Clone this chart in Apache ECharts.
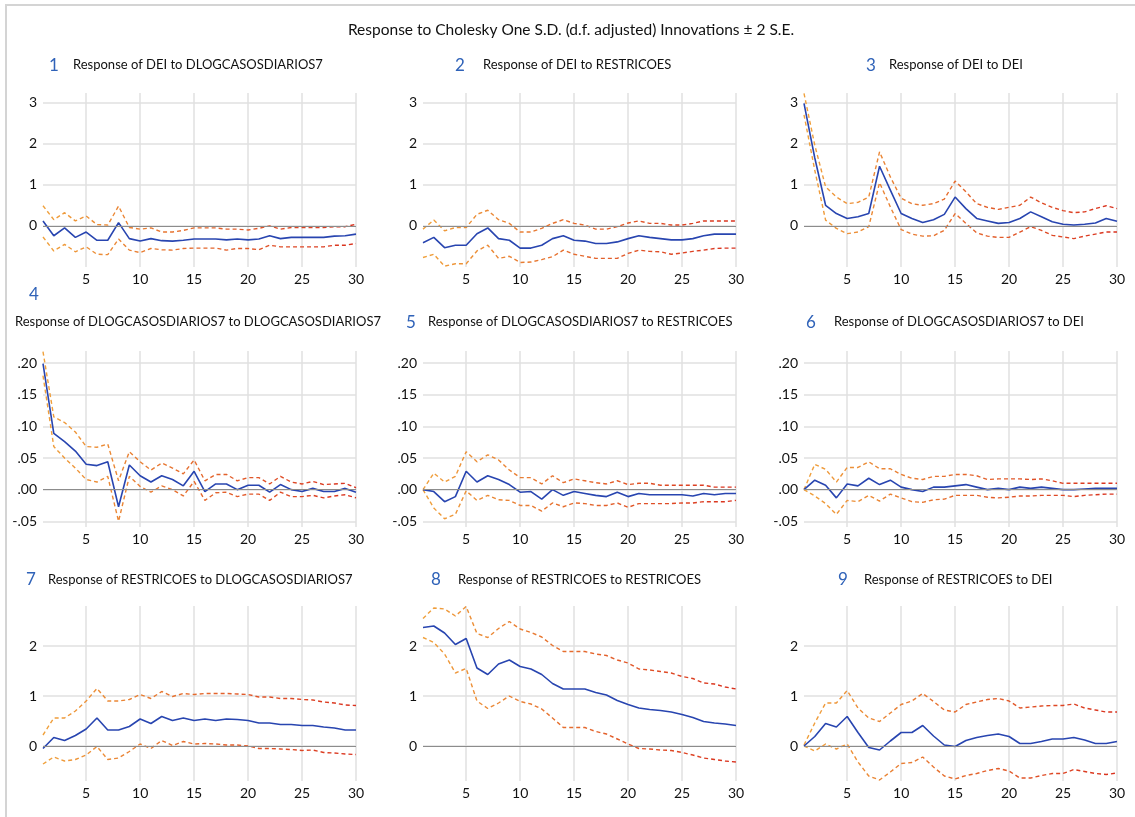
<!DOCTYPE html>
<html>
<head>
<meta charset="utf-8">
<title>Response to Cholesky One S.D. Innovations</title>
<script src="https://cdn.jsdelivr.net/npm/echarts@6/dist/echarts.min.js"></script>
<style>
    html, body { margin: 0; padding: 0; background: #fff; }
    #frame {
        position: absolute; left: 5px; top: 4px; width: 1130px; height: 813px;
        border-left: 2px solid #d4d4d4; border-top: 2px solid #d4d4d4;
    }
    #main { position: absolute; left: 0; top: 0; width: 1135px; height: 817px; }
</style>
</head>
<body>
<div id="frame"></div>
<div id="main"></div>
<script>
    var periods = [1,2,3,4,5,6,7,8,9,10,11,12,13,14,15,16,17,18,19,20,21,22,23,24,25,26,27,28,29,30];

    // 1 DEI <- DLOGCASOSDIARIOS7
    var p1_mid = [0.12,-0.24,-0.05,-0.28,-0.15,-0.35,-0.35,0.08,-0.31,-0.37,-0.31,-0.36,-0.37,-0.35,-0.32,-0.32,-0.32,-0.34,-0.32,-0.34,-0.32,-0.24,-0.31,-0.28,-0.28,-0.28,-0.28,-0.25,-0.24,-0.20];
    var p1_up  = [0.49,0.15,0.32,0.12,0.24,0.03,0.02,0.48,-0.04,-0.08,-0.05,-0.15,-0.15,-0.11,-0.05,-0.05,-0.05,-0.08,-0.08,-0.10,-0.06,0.00,-0.08,-0.04,-0.04,-0.04,-0.04,-0.02,-0.02,0.04];
    var p1_lo  = [-0.27,-0.61,-0.45,-0.63,-0.51,-0.69,-0.70,-0.32,-0.59,-0.65,-0.55,-0.58,-0.59,-0.55,-0.54,-0.54,-0.54,-0.59,-0.55,-0.55,-0.58,-0.47,-0.51,-0.51,-0.51,-0.51,-0.51,-0.47,-0.47,-0.43];
    // 2 DEI <- RESTRICOES
    var p2_mid = [-0.41,-0.28,-0.53,-0.47,-0.47,-0.19,-0.05,-0.31,-0.35,-0.54,-0.54,-0.47,-0.31,-0.24,-0.35,-0.37,-0.43,-0.43,-0.39,-0.31,-0.24,-0.28,-0.31,-0.34,-0.34,-0.31,-0.24,-0.20,-0.20,-0.20];
    var p2_up  = [-0.08,0.14,-0.12,-0.04,-0.04,0.28,0.38,0.15,0.06,-0.15,-0.15,-0.06,0.06,0.15,0.06,0.02,-0.08,-0.08,-0.02,0.07,0.12,0.06,0.06,0.02,0.02,0.06,0.12,0.12,0.12,0.12];
    var p2_lo  = [-0.77,-0.69,-0.98,-0.92,-0.92,-0.61,-0.47,-0.79,-0.74,-0.89,-0.88,-0.82,-0.75,-0.59,-0.69,-0.74,-0.79,-0.79,-0.79,-0.67,-0.59,-0.62,-0.63,-0.69,-0.66,-0.62,-0.59,-0.55,-0.54,-0.54];
    // 3 DEI <- DEI
    var p3_mid = [2.98,1.65,0.50,0.30,0.18,0.22,0.30,1.45,0.87,0.30,0.18,0.08,0.15,0.28,0.70,0.42,0.18,0.12,0.06,0.08,0.18,0.34,0.22,0.10,0.04,0.02,0.04,0.07,0.18,0.11];
    var p3_up  = [3.22,1.96,0.95,0.70,0.54,0.57,0.70,1.80,1.19,0.67,0.54,0.50,0.54,0.65,1.09,0.83,0.54,0.45,0.40,0.45,0.50,0.70,0.56,0.45,0.37,0.32,0.34,0.42,0.49,0.42];
    var p3_lo  = [2.70,1.35,0.14,-0.06,-0.19,-0.15,-0.02,1.05,0.46,-0.09,-0.20,-0.25,-0.24,-0.11,0.30,0.06,-0.17,-0.25,-0.28,-0.28,-0.15,-0.02,-0.11,-0.23,-0.27,-0.31,-0.25,-0.20,-0.15,-0.15];
    // 4 DLOGCASOSDIARIOS7 <- DLOGCASOSDIARIOS7
    var p4_mid = [0.199,0.089,0.076,0.061,0.040,0.038,0.044,-0.027,0.039,0.022,0.012,0.022,0.016,0.006,0.029,-0.003,0.009,0.009,0.000,0.007,0.007,-0.004,0.008,0.000,-0.003,0.002,-0.003,-0.003,0.002,-0.004];
    var p4_up  = [0.218,0.115,0.106,0.091,0.068,0.067,0.072,0.014,0.060,0.044,0.031,0.042,0.034,0.025,0.047,0.014,0.024,0.024,0.014,0.019,0.019,0.009,0.021,0.012,0.009,0.013,0.008,0.009,0.010,0.003];
    var p4_lo  = [0.180,0.068,0.050,0.034,0.016,0.012,0.021,-0.050,0.021,0.005,-0.004,0.006,0.000,-0.010,0.013,-0.017,-0.005,-0.004,-0.011,-0.007,-0.007,-0.017,-0.004,-0.011,-0.011,-0.009,-0.013,-0.010,-0.008,-0.013];
    // 5 DLOGCASOSDIARIOS7 <- RESTRICOES
    var p5_mid = [0.000,-0.003,-0.019,-0.011,0.029,0.012,0.022,0.016,0.008,-0.004,-0.003,-0.015,0.000,-0.009,-0.003,-0.006,-0.009,-0.011,-0.004,-0.011,-0.006,-0.008,-0.008,-0.008,-0.008,-0.010,-0.006,-0.008,-0.006,-0.006];
    var p5_up  = [0.000,0.026,0.012,0.021,0.060,0.044,0.055,0.047,0.031,0.019,0.019,0.009,0.022,0.011,0.017,0.014,0.011,0.009,0.014,0.008,0.010,0.010,0.007,0.007,0.007,0.007,0.007,0.004,0.004,0.004];
    var p5_lo  = [0.000,-0.029,-0.046,-0.039,-0.002,-0.017,-0.009,-0.016,-0.017,-0.025,-0.025,-0.034,-0.021,-0.027,-0.021,-0.022,-0.025,-0.025,-0.021,-0.028,-0.022,-0.022,-0.022,-0.022,-0.021,-0.021,-0.019,-0.019,-0.019,-0.017];
    // 6 DLOGCASOSDIARIOS7 <- DEI
    var p6_mid = [0.000,0.015,0.007,-0.013,0.009,0.006,0.018,0.008,0.015,0.004,0.000,-0.003,0.004,0.004,0.006,0.008,0.004,0.000,0.002,0.000,0.004,0.002,0.004,0.002,0.000,0.000,0.001,0.002,0.002,0.002];
    var p6_up  = [0.000,0.040,0.032,0.012,0.035,0.035,0.044,0.033,0.033,0.024,0.018,0.016,0.021,0.021,0.024,0.024,0.022,0.016,0.017,0.017,0.017,0.016,0.017,0.014,0.010,0.010,0.010,0.010,0.010,0.010];
    var p6_lo  = [0.000,-0.010,-0.022,-0.039,-0.017,-0.019,-0.009,-0.018,-0.007,-0.013,-0.019,-0.020,-0.016,-0.015,-0.009,-0.009,-0.009,-0.012,-0.013,-0.012,-0.010,-0.010,-0.009,-0.009,-0.009,-0.011,-0.009,-0.008,-0.007,-0.007];
    // 7 RESTRICOES <- DLOGCASOSDIARIOS7
    var p7_mid = [-0.05,0.17,0.11,0.21,0.34,0.56,0.32,0.32,0.39,0.54,0.45,0.59,0.51,0.56,0.51,0.54,0.51,0.54,0.53,0.51,0.46,0.46,0.43,0.43,0.41,0.41,0.38,0.36,0.32,0.32];
    var p7_up  = [0.22,0.56,0.56,0.70,0.90,1.15,0.90,0.90,0.93,1.03,0.95,1.09,0.99,1.05,1.03,1.05,1.05,1.05,1.04,1.03,0.98,0.98,0.95,0.95,0.93,0.92,0.88,0.86,0.82,0.81];
    var p7_lo  = [-0.36,-0.22,-0.30,-0.27,-0.18,-0.01,-0.27,-0.24,-0.11,0.04,-0.05,0.11,0.01,0.09,0.04,0.05,0.04,0.02,0.02,0.00,-0.05,-0.05,-0.06,-0.07,-0.09,-0.08,-0.13,-0.14,-0.16,-0.17];
    // 8 RESTRICOES <- RESTRICOES
    var p8_mid = [2.37,2.40,2.26,2.03,2.15,1.56,1.43,1.64,1.72,1.59,1.54,1.43,1.25,1.14,1.14,1.14,1.07,1.02,0.91,0.83,0.76,0.73,0.71,0.68,0.63,0.57,0.49,0.46,0.44,0.41];
    var p8_up  = [2.55,2.76,2.74,2.60,2.79,2.25,2.17,2.35,2.49,2.34,2.27,2.18,2.01,1.89,1.89,1.89,1.84,1.81,1.72,1.66,1.54,1.52,1.49,1.46,1.39,1.35,1.26,1.24,1.18,1.14];
    var p8_lo  = [2.17,2.07,1.84,1.46,1.55,0.90,0.75,0.86,1.00,0.89,0.84,0.74,0.56,0.37,0.37,0.37,0.29,0.24,0.14,0.04,-0.05,-0.06,-0.08,-0.09,-0.13,-0.18,-0.24,-0.27,-0.30,-0.32];
    // 9 RESTRICOES <- DEI
    var p9_mid = [0.00,0.19,0.45,0.38,0.59,0.27,-0.03,-0.08,0.10,0.27,0.27,0.41,0.20,0.02,-0.01,0.11,0.17,0.21,0.24,0.19,0.05,0.05,0.09,0.14,0.14,0.17,0.12,0.05,0.05,0.09];
    var p9_up  = [0.02,0.46,0.86,0.86,1.11,0.76,0.56,0.49,0.66,0.83,0.90,1.05,0.89,0.72,0.68,0.83,0.88,0.93,0.95,0.90,0.76,0.78,0.80,0.81,0.81,0.84,0.76,0.72,0.68,0.68];
    var p9_lo  = [0.00,-0.10,0.04,-0.06,0.04,-0.32,-0.60,-0.68,-0.52,-0.35,-0.33,-0.22,-0.42,-0.60,-0.66,-0.59,-0.55,-0.49,-0.45,-0.50,-0.64,-0.64,-0.59,-0.55,-0.55,-0.47,-0.51,-0.55,-0.57,-0.54];

    var titles = [
        'Response of DEI to DLOGCASOSDIARIOS7',
        'Response of DEI to RESTRICOES',
        'Response of DEI to DEI',
        'Response of DLOGCASOSDIARIOS7 to DLOGCASOSDIARIOS7',
        'Response of DLOGCASOSDIARIOS7 to RESTRICOES',
        'Response of DLOGCASOSDIARIOS7 to DEI',
        'Response of RESTRICOES to DLOGCASOSDIARIOS7',
        'Response of RESTRICOES to RESTRICOES',
        'Response of RESTRICOES to DEI'
    ];
    var rowTicks = [[0, 1, 2, 3], [-0.05, 0, 0.05, 0.10, 0.15, 0.20], [0, 1, 2]];

    var mids = [p1_mid, p2_mid, p3_mid, p4_mid, p5_mid, p6_mid, p7_mid, p8_mid, p9_mid];
    var ups  = [p1_up, p2_up, p3_up, p4_up, p5_up, p6_up, p7_up, p8_up, p9_up];
    var los  = [p1_lo, p2_lo, p3_lo, p4_lo, p5_lo, p6_lo, p7_lo, p8_lo, p9_lo];

    // layout
    var colLeft = [43, 423, 804];
    var plotW = 313;
    var rowTop = [93, 351, 606];
    var rowH = [174, 176, 175];
    var rowMin = [-1, -0.059, -0.7];
    var rowMax = [3.23, 0.219, 2.8];
    // title positions: [numX, numY, textX, textY]
    var titlePos = [
        [49, 57, 73, 58], [455, 57, 483, 58], [866, 57, 889, 58],
        [29, 286, 15, 315], [406, 314, 428, 315], [806, 314, 834, 315],
        [26, 571, 48, 573], [431, 571, 458, 573], [838, 571, 864, 573]
    ];

    var FONT = 'Lato, "Open Sans", sans-serif';
    var bandColor = new echarts.graphic.LinearGradient(0, 0, 1, 0, [
        {offset: 0, color: '#f0a23c'},
        {offset: 1, color: '#d9301e'}
    ]);

    var grid = [], xAxis = [], yAxis = [], series = [], title = [];
    title.push({
        text: 'Response to Cholesky One S.D. (d.f. adjusted) Innovations \u00b1 2 S.E.',
        left: 571, top: 22, textAlign: 'center', padding: 0,
        textStyle: {fontFamily: FONT, fontSize: 15.5, fontWeight: 'normal', color: '#111'}
    });

    for (var i = 0; i < 9; i++) {
        var r = Math.floor(i / 3), c = i % 3;
        grid.push({left: colLeft[c], top: rowTop[r], width: plotW, height: rowH[r]});
        title.push({
            text: String(i + 1), left: titlePos[i][0], top: titlePos[i][1], padding: 0,
            textStyle: {fontFamily: FONT, fontSize: 17, fontWeight: 'normal', color: '#2f62b8'}
        });
        title.push({
            text: titles[i], left: titlePos[i][2], top: titlePos[i][3], padding: 0,
            textStyle: {fontFamily: FONT, fontSize: 13, fontWeight: 'normal', color: '#111'}
        });
        xAxis.push({
            type: 'category', gridIndex: i, data: periods, boundaryGap: false,
            axisLine: {show: false}, axisTick: {show: false},
            axisLabel: {
                interval: function (idx) { return (idx + 1) % 5 === 0; },
                fontFamily: FONT, fontSize: 14, color: '#111', margin: 5
            },
            splitLine: {
                show: true,
                interval: function (idx) { return (idx + 1) % 5 === 0; },
                lineStyle: {color: '#e0e0e0', width: 1.5}
            }
        });
        yAxis.push({
            type: 'value', gridIndex: i, min: rowMin[r], max: rowMax[r],
            axisLine: {show: false},
            axisTick: {show: false, customValues: rowTicks[r]},
            axisLabel: {
                customValues: rowTicks[r],
                fontFamily: FONT, fontSize: 14, color: '#111', margin: 6,
                formatter: r === 1
                    ? function (v) { return v.toFixed(2).replace('0.', '.'); }
                    : function (v) { return String(Math.round(v)); }
            },
            splitLine: {show: true, lineStyle: {color: '#e0e0e0', width: 1.5}}
        });
        var dash = {color: bandColor, width: 1.4, type: [4, 3]};
        series.push({
            type: 'line', xAxisIndex: i, yAxisIndex: i, data: ups[i],
            symbol: 'none', clip: false, lineStyle: dash, silent: true, z: 3
        });
        series.push({
            type: 'line', xAxisIndex: i, yAxisIndex: i, data: los[i],
            symbol: 'none', clip: false, lineStyle: dash, silent: true, z: 3
        });
        series.push({
            type: 'line', xAxisIndex: i, yAxisIndex: i, data: mids[i],
            symbol: 'none', clip: false, silent: true, z: 4,
            lineStyle: {color: '#2845b0', width: 1.6},
            markLine: {
                silent: true, symbol: 'none', label: {show: false},
                lineStyle: {color: '#8c8c8c', width: 1, type: 'solid'},
                data: [{yAxis: 0}]
            }
        });
    }

    var chart = echarts.init(document.getElementById('main'), null, {renderer: 'canvas'});
    chart.setOption({
        backgroundColor: 'transparent',
        animation: false,
        title: title,
        grid: grid,
        xAxis: xAxis,
        yAxis: yAxis,
        series: series
    });
    window.onresize = function () { chart.resize(); };
</script>
</body>
</html>
